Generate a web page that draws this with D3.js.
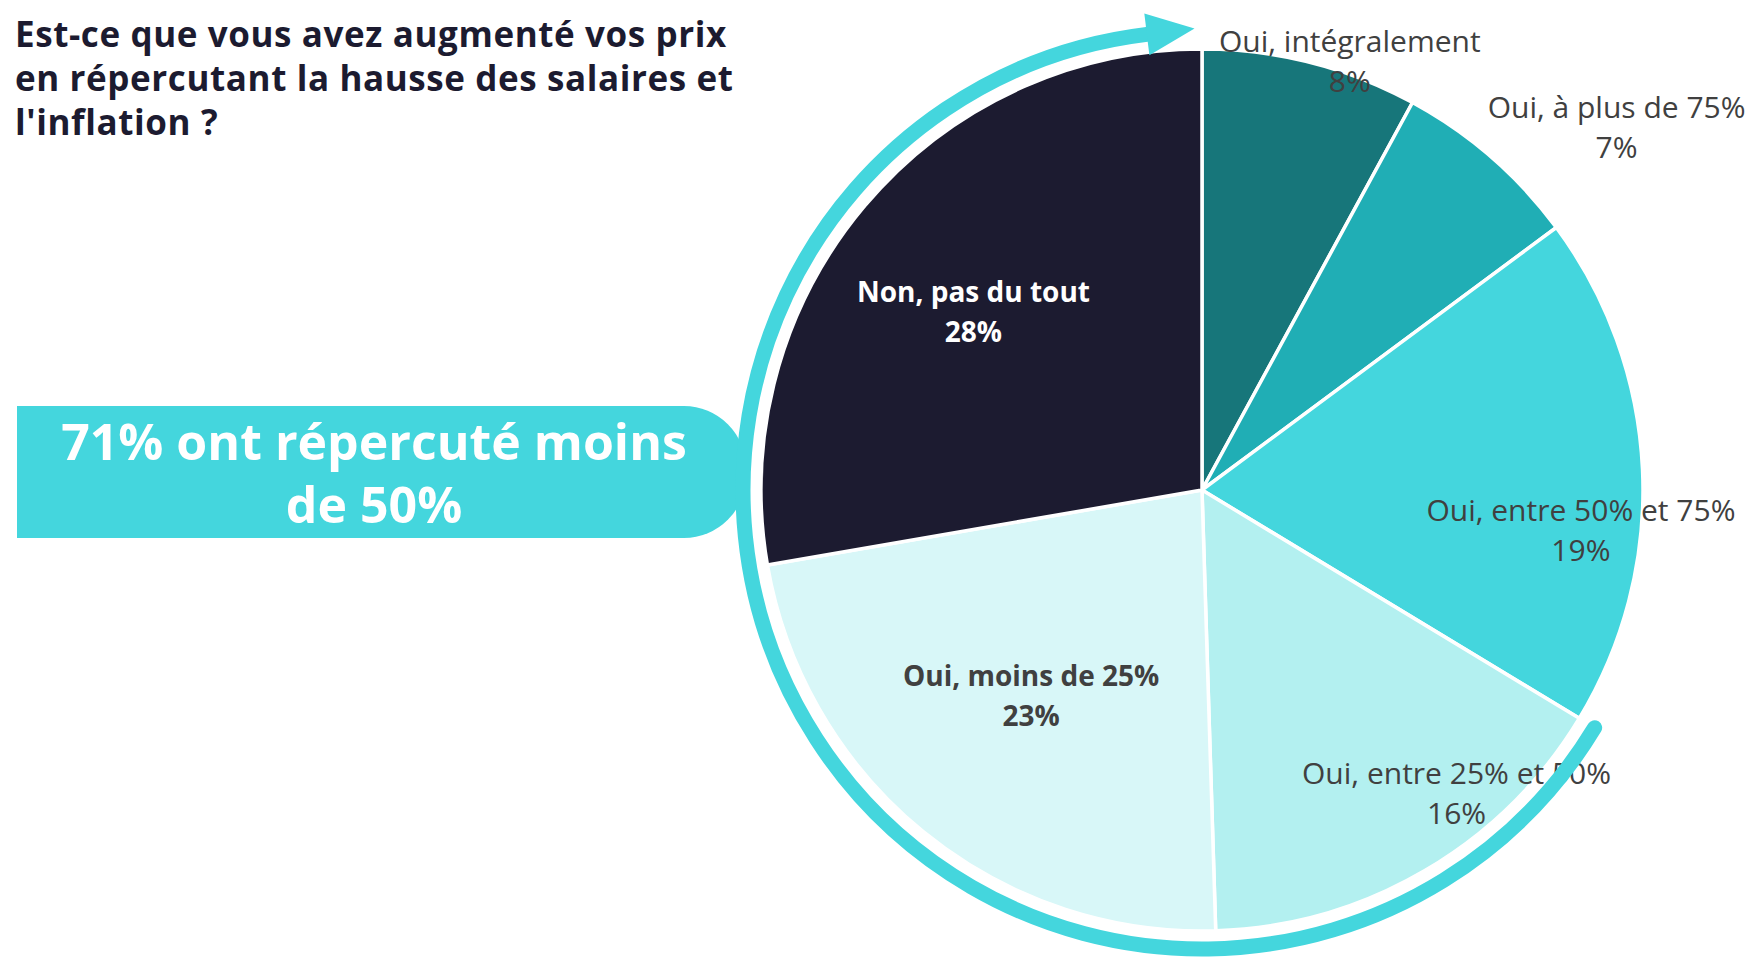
<!DOCTYPE html>
<html lang="fr">
<head>
<meta charset="UTF-8">
<title>Répercussion des hausses</title>
<script src="https://d3js.org/d3.v7.min.js"></script>
<style>
  body { margin: 0; background: #fff; }
  svg { display: block; }
  .title { font-family: "Open Sans", sans-serif; font-weight: 700; font-size: 35px; fill: #1c1b30; letter-spacing: 0.6px; }
  .banner-text { font-family: "Open Sans", sans-serif; font-weight: 700; font-size: 50px; fill: #fff; }
  .slice-label { font-family: "Open Sans", sans-serif; fill: #404040; }
</style>
</head>
<body>
<div id="chart"></div>
<script>
// données du graphique
const categories = ["Oui, intégralement", "Oui, à plus de 75%", "Oui, entre 50% et 75%",
                    "Oui, entre 25% et 50%", "Oui, moins de 25%", "Non, pas du tout"];
const values = [8, 7, 19, 16, 23, 28];
const colors = ["#17767a", "#20aeb5", "#44d6dd", "#b3f0f0", "#d8f7f8", "#1c1b30"];
const titleLines = ["Est-ce que vous avez augmenté vos prix",
                    "en répercutant la hausse des salaires et",
                    "l'inflation ?"];
const bannerLines = ["71% ont répercuté moins", "de 50%"];

// placement des étiquettes (rayon, angle en degrés)
const labelPlace = [
  { r: 454, a: 19, bold: false, fill: "#404040" },
  { r: 551, a: 48.8, bold: false, fill: "#404040" },
  { r: 381, a: 96, bold: false, fill: "#404040" },
  { r: 396, a: 140, bold: false, fill: "#404040" },
  { r: 267, a: 219.8, bold: true, fill: "#404040" },
  { r: 290, a: 308, bold: true, fill: "#ffffff" }
];

const W = 1749, H = 958;
const cx = 1202, cy = 490, R = 441;
const ringR = 459, ringW = 15;

const svg = d3.select("#chart").append("svg")
  .attr("width", W).attr("height", H);

// titre
svg.append("text").attr("class", "title")
  .selectAll("tspan").data(titleLines).enter().append("tspan")
  .attr("x", 15).attr("y", (d, i) => 47 + i * 44)
  .text(d => d);

// bandeau
const bx0 = 17, bx1 = 746, by0 = 406, by1 = 538, br = 62;
svg.append("path")
  .attr("d", `M${bx0},${by0} H${bx1 - br} A${br},${br} 0 0 1 ${bx1},${by0 + br}
              V${by1 - br} A${br},${br} 0 0 1 ${bx1 - br},${by1} H${bx0} Z`)
  .attr("fill", "#44d6dd");

svg.append("text").attr("class", "banner-text")
  .attr("text-anchor", "middle")
  .selectAll("tspan").data(bannerLines).enter().append("tspan")
  .attr("x", 374).attr("y", (d, i) => 460 + i * 63)
  .text(d => d);

// camembert
const pie = d3.pie().sort(null).value(d => d.value);
const arcs = pie(categories.map((c, i) => ({ name: c, value: values[i], i })));
const arc = d3.arc().innerRadius(0).outerRadius(R);

const g = svg.append("g").attr("transform", `translate(${cx},${cy})`);

g.selectAll("path.slice").data(arcs).enter().append("path")
  .attr("class", "slice")
  .attr("d", arc)
  .attr("fill", d => colors[d.data.i])
  .attr("stroke", "#fff")
  .attr("stroke-width", 3.5)
  .attr("stroke-linejoin", "round");

// étiquettes
const lbl = g.selectAll("text.slice-label").data(arcs).enter().append("text")
  .attr("class", "slice-label")
  .attr("text-anchor", "middle")
  .style("font-weight", d => labelPlace[d.data.i].bold ? 700 : 500)
  .style("font-size", d => labelPlace[d.data.i].bold ? "28px" : "30px")
  .style("fill", d => labelPlace[d.data.i].fill)
  .attr("transform", d => {
    const p = labelPlace[d.data.i];
    const [x, y] = d3.pointRadial(p.a * Math.PI / 180, p.r);
    return `translate(${x},${y})`;
  });
lbl.append("tspan").attr("x", 0).attr("y", -9).text(d => d.data.name);
lbl.append("tspan").attr("x", 0).attr("y", 31).text(d => d.data.value + "%");

// anneau avec flèche : du début de la tranche 25-50% jusqu'en haut
const startA = arcs[3].startAngle;
const endA = 2 * Math.PI - 6.9 * Math.PI / 180;
const ring = d3.path();
ring.arc(0, 0, ringR, startA - Math.PI / 2, endA - Math.PI / 2, false);
g.append("path")
  .attr("d", ring.toString())
  .attr("fill", "none")
  .attr("stroke", "#44d6dd")
  .attr("stroke-width", ringW)
  .attr("stroke-linecap", "round");

const [bxp, byp] = d3.pointRadial(endA, ringR);
const t = [Math.cos(endA), Math.sin(endA)];
const n = [Math.sin(endA), -Math.cos(endA)];
const headLen = 48, headHalf = 21;
const head = [
  [bxp + n[0] * headHalf, byp + n[1] * headHalf],
  [bxp + t[0] * headLen, byp + t[1] * headLen],
  [bxp - n[0] * headHalf, byp - n[1] * headHalf]
];
g.append("path")
  .attr("d", d3.line()(head) + "Z")
  .attr("fill", "#44d6dd");
</script>
</body>
</html>
